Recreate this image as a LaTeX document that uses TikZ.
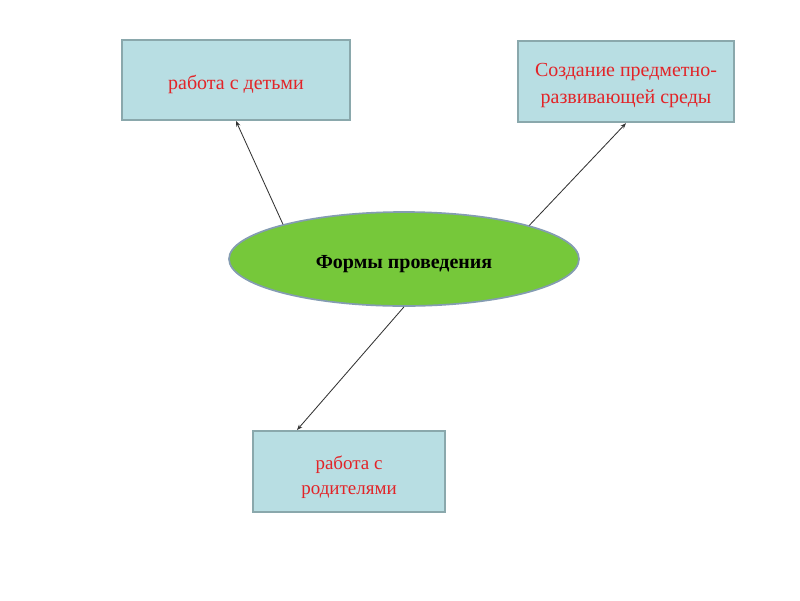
\documentclass[tikz,border=0pt]{standalone}
\usepackage{fontspec}
\setmainfont{Liberation Serif}
\usepackage{tikz}
\usetikzlibrary{shapes.geometric, arrows.meta, positioning}
\definecolor{BoxFill}{RGB}{184,222,227}
\definecolor{BoxLine}{RGB}{138,168,172}
\definecolor{TextRed}{RGB}{226,36,40}
\definecolor{EllFill}{RGB}{118,200,58}
\definecolor{EllLine}{RGB}{132,156,178}

% lowered text block: shift, lines
\newcommand{\lowered}[2]{\raisebox{-#1}[\height][\depth]{\begin{tabular}{@{}c@{}}#2\end{tabular}}}

\tikzset{
  formbox/.style={draw=BoxLine, line width=1.4pt, fill=BoxFill, text=TextRed,
    font=\fontsize{14.2}{19}\selectfont},
  link/.style={draw=black!80, line width=0.6pt, -{Stealth[length=4pt,width=3pt]}}
}

\begin{document}
\begin{tikzpicture}
  \useasboundingbox (0,0) rectangle (20,-15);
  \fill[white] (0,0) rectangle (20,-15);

  \node[ellipse, draw=EllLine, line width=1.2pt, fill=EllFill,
        minimum width=8.75cm, minimum height=2.35cm,
        font=\bfseries\fontsize{14.2}{17}\selectfont] (forms) at (10.1,-6.475)
    {\lowered{3.5pt}{Формы проведения}};

  \node[formbox, minimum width=5.7cm, minimum height=2.0cm] (children) at (5.9,-2.0)
    {\lowered{3pt}{работа с детьми}};
  \node[formbox, minimum width=5.4cm, minimum height=2.03cm] (environment) at (15.65,-2.04)
    {\lowered{2pt}{Создание предметно-\\развивающей среды}};
  \node[formbox, minimum width=4.8cm, minimum height=2.03cm,
        font=\fontsize{13.5}{18}\selectfont] (parents) at (8.725,-11.79)
    {\lowered{4pt}{работа с\\родителями}};

  \draw[link] (forms.164.5) -- (children.south);
  \draw[link] (forms.15.5) -- (environment.south);
  \draw[link] (forms.south) -- ([xshift=-1.3cm]parents.north);
\end{tikzpicture}
\end{document}
